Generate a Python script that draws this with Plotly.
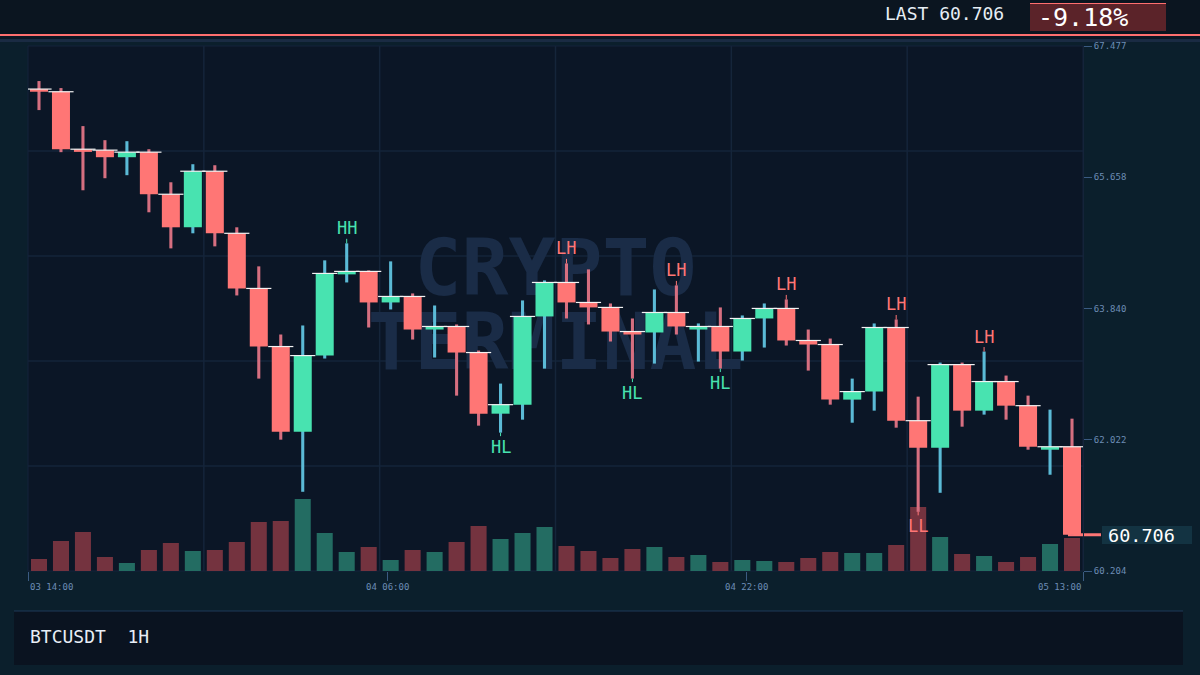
import numpy as np
import pandas as pd
import plotly.graph_objects as go

# ---------------- data ----------------
symbol = "BTCUSDT"
interval = "1H"
start_time = "2024-06-03 14:00"

opens = [66.880, 66.843, 66.047, 66.034, 65.936, 66.006, 65.423, 64.965, 65.742, 64.882,
         64.118, 63.313, 62.134, 63.188, 64.313, 64.354, 63.924, 64.007, 63.549, 63.591,
         63.230, 62.383, 62.508, 63.730, 64.201, 63.924, 63.855, 63.521, 63.508, 63.785,
         63.549, 63.591, 63.244, 63.702, 63.841, 63.397, 63.341, 62.578, 62.689, 63.577,
         62.286, 61.911, 63.063, 62.425, 62.828, 62.494, 61.884, 61.925]
highs = [66.991, 66.894, 66.367, 66.172, 66.158, 66.047, 65.589, 65.839, 65.825, 64.965,
         64.424, 63.480, 63.605, 64.507, 64.743, 64.368, 64.493, 64.049, 63.882, 63.619,
         63.258, 62.800, 63.952, 64.229, 64.465, 64.382, 63.910, 63.702, 64.104, 64.160,
         63.633, 63.855, 63.744, 63.910, 63.966, 63.549, 63.424, 62.869, 63.633, 63.688,
         62.619, 63.091, 63.091, 63.244, 62.911, 62.633, 62.439, 62.314]
lows = [66.589, 66.006, 65.478, 65.645, 65.687, 65.173, 64.673, 64.882, 64.701, 64.021,
        62.869, 62.023, 61.301, 63.147, 64.201, 63.577, 63.827, 63.410, 63.161, 62.633,
        62.217, 62.120, 62.300, 63.008, 63.702, 63.619, 63.383, 62.869, 63.077, 63.480,
        63.105, 63.008, 63.119, 63.299, 63.327, 62.980, 62.508, 62.258, 62.425, 62.189,
        61.023, 61.287, 62.203, 62.370, 62.300, 61.884, 61.537, 60.700]
closes = [66.843, 66.047, 66.010, 65.936, 66.006, 65.423, 64.965, 65.742, 64.882, 64.118,
          63.313, 62.134, 63.188, 64.326, 64.354, 63.924, 64.007, 63.549, 63.591, 63.230,
          62.383, 62.508, 63.730, 64.201, 63.924, 63.855, 63.521, 63.480, 63.785, 63.591,
          63.591, 63.244, 63.702, 63.841, 63.397, 63.341, 62.578, 62.689, 63.577, 62.286,
          61.911, 63.063, 62.425, 62.828, 62.494, 61.925, 61.925, 60.706]
volumes = [300, 750, 975, 350, 200, 525, 700, 500, 525, 725,
           1225, 1250, 1800, 950, 475, 600, 275, 525, 475, 725,
           1125, 800, 950, 1100, 625, 500, 325, 550, 600, 350,
           400, 225, 275, 250, 225, 325, 475, 450, 450, 650,
           1600, 850, 425, 375, 225, 350, 675, 825]

pivot_idx = [14, 21, 24, 27, 29, 31, 34, 39, 40, 43]
pivot_lbl = ["HH", "HL", "LH", "HL", "LH", "HL", "LH", "LH", "LL", "LH"]

price_min, price_max = 60.2036, 67.4767
vol_axis_max = 13125
time_ticks = ["2024-06-03 14:00", "2024-06-04 06:00", "2024-06-04 22:00", "2024-06-05 13:00"]

# ---------------- style ----------------
FONT = "DejaVu Sans Mono"
UP, DOWN = "#48e3b0", "#ff7675"
UP_WICK, DOWN_WICK = "#5bbad6", "#d66f80"
VOL_UP, VOL_DOWN = "#236c62", "#74333f"
AXIS_TXT = "#6d8db5"
TICK_C = "#3b5b82"
GRID_C = "#15253a"

W, H = 1200, 675
def px(x):
    return x / W
def py(y):
    return 1 - y / H

o = np.array(opens); h = np.array(highs); l = np.array(lows); c = np.array(closes)
n = len(o)
idx = np.arange(n)
up = c >= o
times = pd.date_range(start_time, periods=n, freq="h")

fig = go.Figure()

# volume (base axis, drawn underneath)
fig.add_trace(go.Bar(x=idx, y=volumes, width=0.73, xaxis="x", yaxis="y",
                     marker=dict(color=np.where(up, VOL_UP, VOL_DOWN).tolist(), line_width=0),
                     hoverinfo="skip", showlegend=False))
# wicks
fig.add_trace(go.Bar(x=idx, y=h - l, base=l, width=0.14, xaxis="x", yaxis="y2",
                     marker=dict(color=np.where(up, UP_WICK, DOWN_WICK).tolist(), line_width=0),
                     hoverinfo="skip", showlegend=False))
# bodies
fig.add_trace(go.Bar(x=idx, y=np.abs(c - o), base=np.minimum(o, c), width=0.82, xaxis="x", yaxis="y2",
                     marker=dict(color=np.where(up, UP, DOWN).tolist(), line_width=0),
                     hoverinfo="skip", showlegend=False))
# white top edge of bodies
fig.add_trace(go.Scatter(x=idx, y=np.maximum(o, c), mode="markers", xaxis="x", yaxis="y2",
                         marker=dict(symbol="line-ew", size=18, line=dict(width=1.2, color="#f2f2f2")),
                         hoverinfo="skip", showlegend=False))
# time axis carrier
fig.add_trace(go.Scatter(x=times, y=c, mode="none", xaxis="x2", yaxis="y2",
                         hoverinfo="skip", showlegend=False))

shapes = []
# top bar
shapes.append(dict(type="rect", xref="paper", yref="paper", x0=0, x1=1, y0=py(36), y1=1,
                   fillcolor="#0b1520", line_width=0, layer="below"))
shapes.append(dict(type="line", xref="paper", yref="paper", x0=0, x1=1, y0=py(35), y1=py(35),
                   line=dict(color="#ff6f6f", width=2)))
shapes.append(dict(type="rect", xref="paper", yref="paper", x0=0, x1=1, y0=py(42), y1=py(36),
                   fillcolor="#0c1724", line_width=0, layer="below"))
shapes.append(dict(type="line", xref="paper", yref="paper", x0=0, x1=1, y0=py(40.5), y1=py(40.5),
                   line=dict(color="#1a2b43", width=3)))
# change box
shapes.append(dict(type="rect", xref="paper", yref="paper", x0=px(1030), x1=px(1166), y0=py(31), y1=py(3),
                   fillcolor="#5b2329", line_width=0))
shapes.append(dict(type="line", xref="paper", yref="paper", x0=px(1030), x1=px(1166), y0=py(3.5), y1=py(3.5),
                   line=dict(color="#ff6f6f", width=1)))
# grid lines
for k in range(1, 5):
    shapes.append(dict(type="line", xref="x domain", yref="y domain", x0=0, x1=1, y0=k / 5, y1=k / 5,
                       line=dict(color=GRID_C, width=1.5), layer="below"))
for k in range(1, 6):
    shapes.append(dict(type="line", xref="x domain", yref="y domain", x0=k / 6, x1=k / 6, y0=0, y1=1,
                       line=dict(color=GRID_C, width=1.5), layer="below"))
# watermark
for txt, yc in [("CRYPTO", 0.5886), ("TERMINAL", 0.4476)]:
    shapes.append(dict(type="rect", xref="x domain", yref="y domain", x0=0, x1=1, y0=yc - 0.08, y1=yc + 0.08,
                       fillcolor="rgba(0,0,0,0)", line_width=0, layer="below",
                       label=dict(text=f"<b>{txt}</b>", textposition="middle center",
                                  font=dict(family=FONT, size=78, color="#1a2c47"))))
# plot border
shapes.append(dict(type="rect", xref="x domain", yref="y domain", x0=0, x1=1, y0=0, y1=1,
                   line=dict(color="#14233a", width=1), fillcolor="rgba(0,0,0,0)", layer="below"))
# bottom panel
shapes.append(dict(type="rect", xref="paper", yref="paper", x0=px(14), x1=px(1183), y0=py(665), y1=py(611),
                   fillcolor="#0a1320", line_width=0, layer="below"))
shapes.append(dict(type="line", xref="paper", yref="paper", x0=px(14), x1=px(1183), y0=py(611), y1=py(611),
                   line=dict(color="#1f3a58", width=1)))
# last price marker
shapes.append(dict(type="line", xref="paper", yref="y2", x0=px(1068), x1=px(1101), y0=c[-1], y1=c[-1],
                   line=dict(color=DOWN, width=3), layer="below"))
shapes.append(dict(type="rect", xref="paper", yref="paper", x0=px(1102), x1=px(1192), y0=py(544), y1=py(526),
                   fillcolor="#133342", line_width=0))

annotations = []
change = (c[-1] / c[0] - 1) * 100
annotations.append(dict(text=f"LAST {c[-1]:.3f}", xref="paper", yref="paper", x=px(883), y=py(14),
                        xanchor="left", yanchor="middle", showarrow=False,
                        font=dict(family=FONT, size=18, color="#e6edf5")))
annotations.append(dict(text=f"{change:.2f}%", xref="paper", yref="paper", x=px(1036), y=py(17),
                        xanchor="left", yanchor="middle", showarrow=False,
                        font=dict(family=FONT, size=25, color="#ffffff")))
annotations.append(dict(text=f"{symbol}\u00a0\u00a0{interval}", xref="paper", yref="paper", x=px(28), y=py(636),
                        xanchor="left", yanchor="middle", showarrow=False,
                        font=dict(family=FONT, size=18, color="#e8eef6")))
annotations.append(dict(text=f"{c[-1]:.3f}", xref="paper", yref="paper", x=px(1106), y=py(535),
                        xanchor="left", yanchor="middle", showarrow=False,
                        font=dict(family=FONT, size=18.5, color="#ffffff")))
anchors = ["left", "center", "center", "right"]
for t, a in zip(time_ticks, anchors):
    annotations.append(dict(text=pd.Timestamp(t).strftime("%d %H:%M"), xref="x2", yref="paper",
                            x=t, y=py(586.5), xanchor=a, yanchor="middle", showarrow=False,
                            font=dict(family=FONT, size=9, color=AXIS_TXT)))
for i, lab in zip(pivot_idx, pivot_lbl):
    col = DOWN if lab in ("LH", "LL") else UP
    above = lab.endswith("H")
    annotations.append(dict(text=lab, xref="x", yref="y2", x=int(i), y=h[i] if above else l[i],
                            showarrow=True, arrowhead=0, arrowwidth=1, arrowcolor=col,
                            ax=0, ay=-15 if above else 14, standoff=0, borderpad=0,
                            font=dict(family=FONT, size=17, color=col)))

ticks_y = np.linspace(price_min, price_max, 5)

fig.update_layout(
    width=W, height=H, margin=dict(l=0, r=0, t=0, b=0, pad=0, autoexpand=False),
    paper_bgcolor="#0b1f2c", plot_bgcolor="#0b1626",
    barmode="overlay", hovermode=False, showlegend=False,
    font=dict(family=FONT, color=AXIS_TXT),
    xaxis=dict(domain=[px(28), px(1083)], range=[-0.5, n - 0.5], visible=False, fixedrange=True),
    yaxis=dict(domain=[py(571), py(46)], range=[0, vol_axis_max], visible=False, fixedrange=True),
    yaxis2=dict(overlaying="y", anchor="x", side="right", range=[price_min, price_max],
                tickvals=ticks_y.tolist(), ticktext=[f"{v:.3f}" for v in ticks_y],
                ticks="outside", ticklen=8, tickwidth=1, tickcolor=TICK_C,
                tickfont=dict(family=FONT, size=9, color=AXIS_TXT),
                showgrid=False, zeroline=False, showline=True, linecolor="#15243a", linewidth=1,
                fixedrange=True, automargin=False),
    xaxis2=dict(type="date", overlaying="x", anchor="y", side="bottom",
                range=[times[0], times[-1]], tickvals=time_ticks, showticklabels=False,
                ticks="outside", ticklen=9, tickwidth=1, tickcolor=TICK_C,
                showgrid=False, zeroline=False, showline=False, fixedrange=True, automargin=False),
    shapes=shapes, annotations=annotations,
)

fig.write_html("out.html", config={"displayModeBar": False})
